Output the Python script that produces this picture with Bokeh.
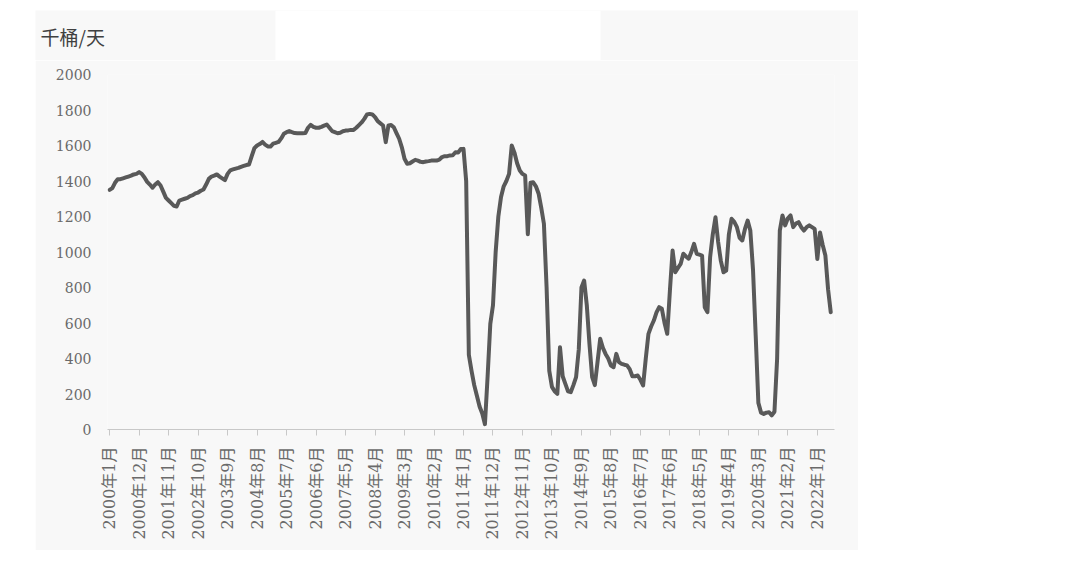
import math
from bokeh.plotting import figure
from bokeh.models import Range1d, FixedTicker, Spacer
from bokeh.layouts import row, column
from bokeh.core.properties import value
from bokeh.embed import file_html
from bokeh.resources import INLINE

# Monthly values, 2000-01 .. 2022-06 (thousand barrels/day)
years = list(range(2000, 2023))
values = [
    # 2000
    1350, 1360, 1390, 1410, 1410, 1415, 1420, 1425, 1430, 1437, 1440, 1450,
    # 2001
    1440, 1420, 1395, 1380, 1362, 1380, 1393, 1375, 1340, 1305, 1290, 1275,
    # 2002
    1260, 1256, 1290, 1295, 1300, 1305, 1315, 1320, 1330, 1335, 1345, 1352,
    # 2003
    1380, 1412, 1425, 1430, 1437, 1425, 1415, 1405, 1440, 1460, 1465, 1470,
    # 2004
    1474, 1480, 1485, 1490, 1493, 1540, 1585, 1600, 1608, 1620, 1605, 1595,
    # 2005
    1594, 1610, 1615, 1620, 1640, 1666, 1675, 1681, 1675, 1670, 1669, 1669,
    # 2006
    1669, 1670, 1700, 1716, 1705, 1700, 1700, 1705, 1712, 1718, 1700, 1681,
    # 2007
    1675, 1669, 1672, 1680, 1684, 1685, 1688, 1688, 1700, 1715, 1730, 1750,
    # 2008
    1775, 1778, 1775, 1760, 1737, 1725, 1713, 1619, 1713, 1715, 1703, 1670,
    # 2009
    1638, 1590, 1525, 1497, 1500, 1510, 1519, 1515, 1508, 1506, 1510, 1512,
    # 2010
    1515, 1515, 1515, 1520, 1535, 1540, 1540, 1544, 1545, 1562, 1560, 1580,
    # 2011
    1581, 1400, 420, 330, 250, 190, 130, 90, 30, 300, 595, 700,
    # 2012
    1000, 1200, 1310, 1370, 1400, 1440, 1600, 1560, 1500, 1459, 1440, 1431,
    # 2013
    1100, 1390, 1393, 1370, 1330, 1250, 1159, 800, 330, 240, 215, 201,
    # 2014
    464, 300, 257, 215, 210, 250, 295, 450, 800, 839, 700, 480,
    # 2015
    295, 250, 380, 511, 460, 426, 400, 360, 351, 426, 380, 370,
    # 2016
    365, 361, 340, 300, 300, 304, 280, 248, 400, 539, 580, 614,
    # 2017
    660, 689, 680, 600, 539, 783, 1008, 886, 910, 933, 990, 975,
    # 2018
    962, 1000, 1046, 990, 985, 980, 689, 661, 971, 1100, 1196, 1056,
    # 2019
    950, 886, 895, 1100, 1187, 1170, 1140, 1080, 1065, 1130, 1177, 1121,
    # 2020
    900, 530, 150, 95, 88, 95, 97, 80, 100, 400, 1120, 1206,
    # 2021
    1150, 1190, 1206, 1140, 1160, 1168, 1140, 1121, 1140, 1150, 1140, 1130,
    # 2022
    960, 1110, 1040, 980, 790, 661,
]
categories = [f"{y}年{m}月" for y in years for m in range(1, 13)][: len(values)]
tick_labels = ["2000年1月", "2000年12月", "2001年11月", "2002年10月", "2003年9月",
               "2004年8月", "2005年7月", "2006年6月", "2007年5月", "2008年4月",
               "2009年3月", "2010年2月", "2011年1月", "2011年12月", "2012年11月",
               "2013年10月", "2014年9月", "2015年8月", "2016年7月", "2017年6月",
               "2018年5月", "2019年4月", "2020年3月", "2021年2月", "2022年1月"]
y_ticks = [0, 200, 400, 600, 800, 1000, 1200, 1400, 1600, 1800, 2000]
unit_label = "千桶/天"

x_idx = list(range(len(values)))
tick_pos = [categories.index(t) for t in tick_labels]

BG = "#f8f8f8"
W = 823
LABEL_FONT = "'DejaVu Serif', 'Noto Sans CJK SC'"

# ---- header strip (unit label and white patch), pixel coordinates ----
HEAD_H = 50
head = figure(width=W, height=HEAD_H, output_backend="svg", toolbar_location=None,
              x_range=Range1d(0, W), y_range=Range1d(HEAD_H, 0),
              min_border=0, x_axis_location=None, y_axis_location=None)
head.background_fill_color = BG
head.border_fill_color = BG
head.outline_line_color = None
head.grid.visible = False
head.quad(left=240, right=565, top=0, bottom=HEAD_H, fill_color="white",
          line_color=None)
head.text(x=[5], y=[12], text=[unit_label], text_font=value("Noto Sans CJK SC"),
          text_font_size="19px", text_color="#404040", text_baseline="top",
          text_align="left")

# ---- main chart ----
p = figure(width=W, height=490, output_backend="svg", toolbar_location=None,
           x_range=Range1d(-0.8, 270.4), y_range=Range1d(0, 2000),
           min_border_left=72, min_border_right=24, min_border_top=14,
           min_border_bottom=121)
p.background_fill_color = BG
p.border_fill_color = BG
p.outline_line_color = None
p.xgrid.grid_line_color = None
p.ygrid.grid_line_color = None

p.line(x_idx, values, line_color="#595959", line_width=4, line_join="round",
       line_cap="round")

xa = p.xaxis[0]
xa.ticker = FixedTicker(ticks=tick_pos)
xa.major_label_overrides = {pos: lab for pos, lab in zip(tick_pos, tick_labels)}
xa.major_label_orientation = math.pi / 2
xa.axis_line_color = "#c8c8c8"
xa.major_tick_line_color = "#c8c8c8"
xa.major_tick_out = 6
xa.major_tick_in = 0
xa.minor_tick_line_color = None
xa.major_label_text_font = LABEL_FONT
xa.major_label_text_font_size = "16px"
xa.major_label_text_color = "#6a6a6a"
xa.major_label_standoff = 11

ya = p.yaxis[0]
ya.ticker = FixedTicker(ticks=y_ticks)
ya.axis_line_color = None
ya.major_tick_line_color = None
ya.minor_tick_line_color = None
ya.major_label_text_font = LABEL_FONT
ya.major_label_text_font_size = "14px"
ya.major_label_text_color = "#6a6a6a"
ya.major_label_standoff = 10

layout = column(Spacer(width=10, height=10),
                row(Spacer(width=35, height=HEAD_H), head),
                row(Spacer(width=35, height=490), p))
open("out.html", "w").write(file_html(layout, INLINE))
